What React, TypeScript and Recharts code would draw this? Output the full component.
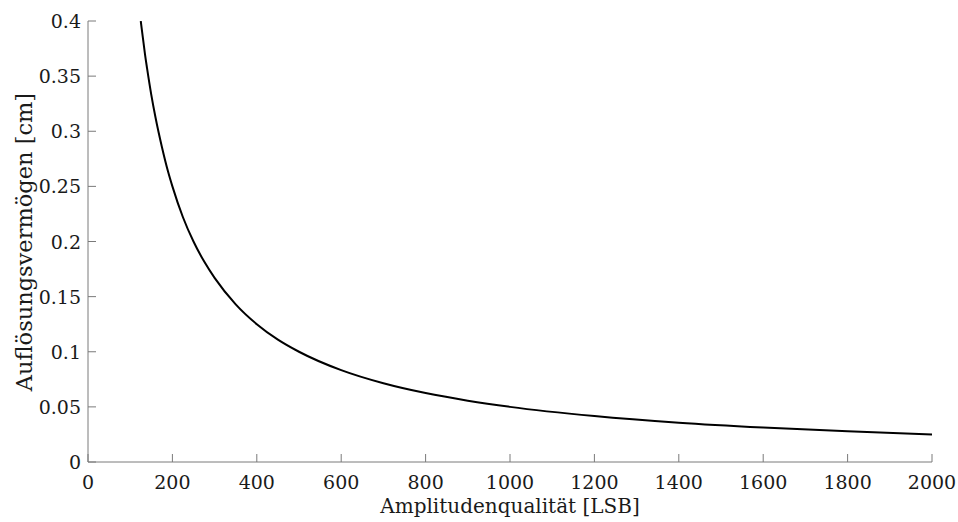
import { Line, LineChart, XAxis, YAxis } from "recharts"

const amplitude = [125, 130, 135, 140, 150, 160, 175, 190, 200, 225, 250, 275, 300, 350, 400, 450, 500, 600, 700, 800, 900, 1000, 1200, 1400, 1600, 1800, 2000]
const resolution = [0.4, 0.385, 0.37, 0.357, 0.333, 0.3125, 0.286, 0.263, 0.25, 0.222, 0.2, 0.182, 0.167, 0.143, 0.125, 0.111, 0.1, 0.0833, 0.0714, 0.0625, 0.0556, 0.05, 0.0417, 0.0357, 0.0313, 0.0278, 0.025]
const xTicks = [0, 200, 400, 600, 800, 1000, 1200, 1400, 1600, 1800, 2000]
const yTicks = [0, 0.05, 0.1, 0.15, 0.2, 0.25, 0.3, 0.35, 0.4]

const data = amplitude.map((a, i) => ({ a, r: resolution[i] }))

const W = 958
const H = 522
const LEFT = 88
const TOP = 21
const RIGHT = 932
const BOTTOM = 462
const TICK = 8
const AXIS = "#7a7a7a"
const FONT = "DejaVu Serif, Liberation Serif, Times New Roman, Noto Serif, serif"
const TEXT = "#1a1a1a"

const fmtY = (v: number) => (v === 0 ? "0" : String(Number(v.toFixed(2))))

function BottomTick({ x, payload }: any) {
  return (
    <g>
      <line x1={x} x2={x} y1={BOTTOM} y2={BOTTOM - TICK} stroke={AXIS} />
      <text x={x} y={BOTTOM + 27} textAnchor="middle" fontSize={19} style={{ fontFamily: FONT }} fill={TEXT}>
        {payload.value}
      </text>
    </g>
  )
}

function TopTick({ x }: any) {
  return <line x1={x} x2={x} y1={TOP} y2={TOP + TICK} stroke={AXIS} />
}

function LeftTick({ y, payload }: any) {
  return (
    <g>
      <line x1={LEFT} x2={LEFT + TICK} y1={y} y2={y} stroke={AXIS} />
      <text x={LEFT - 7} y={y + 7} textAnchor="end" fontSize={19} style={{ fontFamily: FONT }} fill={TEXT}>
        {fmtY(payload.value)}
      </text>
    </g>
  )
}

function RightTick({ y }: any) {
  return <line x1={RIGHT} x2={RIGHT - TICK} y1={y} y2={y} stroke={AXIS} />
}

export default function App() {
  return (
    <div style={{ position: "absolute", left: 0, top: 0, width: W, height: H, background: "#fff" }}>
      <LineChart width={W} height={H} data={data} margin={{ top: TOP, right: W - RIGHT, left: 8, bottom: 0 }}>
        <XAxis
          dataKey="a"
          type="number"
          domain={[0, 2000]}
          ticks={xTicks}
          height={H - BOTTOM}
          axisLine={{ stroke: AXIS }}
          tickLine={false}
          tick={<BottomTick />}
          interval={0}
        />
        <XAxis
          xAxisId="top"
          orientation="top"
          dataKey="a"
          type="number"
          domain={[0, 2000]}
          ticks={xTicks}
          height={0}
          axisLine={{ stroke: AXIS }}
          tickLine={false}
          tick={<TopTick />}
          interval={0}
        />
        <YAxis
          type="number"
          domain={[0, 0.4]}
          ticks={yTicks}
          width={LEFT - 8}
          axisLine={{ stroke: AXIS }}
          tickLine={false}
          tick={<LeftTick />}
          interval={0}
          allowDataOverflow
        />
        <YAxis
          yAxisId="right"
          orientation="right"
          type="number"
          domain={[0, 0.4]}
          ticks={yTicks}
          width={0}
          axisLine={{ stroke: AXIS }}
          tickLine={false}
          tick={<RightTick />}
          interval={0}
        />
        <Line dataKey="r" type="monotone" stroke="#000" strokeWidth={2} dot={false} isAnimationActive={false} />
      </LineChart>
      <div
        style={{
          position: "absolute",
          left: LEFT,
          width: RIGHT - LEFT,
          top: 493,
          textAlign: "center",
          fontFamily: FONT,
          fontSize: 20,
          color: TEXT,
          lineHeight: "26px",
        }}
      >
        Amplitudenqualität [LSB]
      </div>
      <div
        style={{
          position: "absolute",
          left: 24,
          top: (TOP + BOTTOM) / 2,
          transform: "translate(-50%, -50%) rotate(-90deg)",
          whiteSpace: "nowrap",
          fontFamily: FONT,
          fontSize: 22.5,
          color: TEXT,
          lineHeight: "26px",
        }}
      >
        Auflösungsvermögen [cm]
      </div>
    </div>
  )
}
